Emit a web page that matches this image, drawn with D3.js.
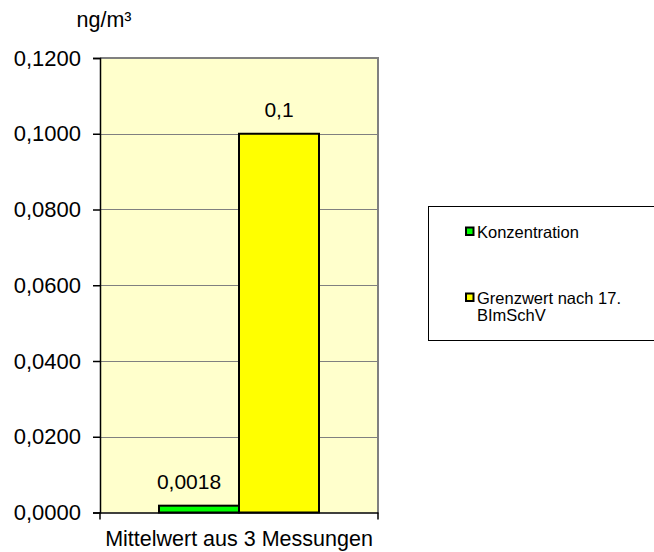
<!DOCTYPE html>
<html><head><meta charset="utf-8">
<script src="https://cdn.jsdelivr.net/npm/d3@7"></script>
<style>body{margin:0;background:#fff;} text{font-family:"Liberation Sans",Arial,sans-serif;}</style>
</head><body>
<svg id="c" width="654" height="552"></svg>
<script>
const categories = ["Mittelwert aus 3 Messungen"];
const seriesNames = ["Konzentration", "Grenzwert nach 17. BImSchV"];
const seriesValues = [0.0018, 0.1];
const valueLabels = ["0,0018", "0,1"];
const seriesColors = ["#00FF00", "#FFFF00"];
const yTicks = [0, 0.02, 0.04, 0.06, 0.08, 0.1, 0.12];
const unitLabel = "ng/m³";

const svg = d3.select("#c");
const L = 100, R = 378, T = 58, B = 512.5;
const y = d3.scaleLinear().domain([0, 0.12]).range([B, T]);
const x0 = d3.scaleBand().domain(categories).range([L, R]).padding(0);
const x1 = d3.scaleBand().domain(seriesNames).range([0, x0.bandwidth()]).paddingInner(0).paddingOuter(0.7375);
const fmt = v => d3.format(".4f")(v).replace(".", ",");

// plot background
svg.append("rect").attr("x", L).attr("y", T).attr("width", R - L).attr("height", B - T).attr("fill", "#FFFFCC");
// gridlines
svg.append("g").selectAll("line").data(yTicks.filter(t => t > 0)).join("line")
  .attr("x1", L).attr("x2", R).attr("y1", d => Math.round(y(d)) + 0.5).attr("y2", d => Math.round(y(d)) + 0.5)
  .attr("stroke", "#808080").attr("stroke-width", 1);
// plot border top/right
svg.append("path").attr("d", `M${L},${T}H${R}V${B}`).attr("fill", "none").attr("stroke", "#808080").attr("stroke-width", 2);

// bars
const g = svg.append("g");
seriesNames.forEach((s, i) => {
  const bx = x0(categories[0]) + x1(s);
  g.append("rect").attr("x", bx).attr("y", y(seriesValues[i])).attr("width", x1.bandwidth())
    .attr("height", y(0) - y(seriesValues[i])).attr("fill", seriesColors[i]).attr("stroke", "#000").attr("stroke-width", 2);
});
// value labels
const labelOffsets = [-10, 0];
seriesNames.forEach((s, i) => {
  const cx = x0(categories[0]) + x1(s) + x1.bandwidth() / 2 + labelOffsets[i];
  svg.append("text").attr("x", cx).attr("y", y(seriesValues[i]) - 17).attr("text-anchor", "middle")
    .attr("font-size", 21).attr("fill", "#000").text(valueLabels[i]);
});

// y axis
const yAxis = d3.axisLeft(y).tickValues(yTicks).tickFormat(fmt).tickSize(7).tickPadding(12);
const ya = svg.append("g").attr("transform", `translate(${L},0)`).call(yAxis);
ya.selectAll("text").attr("font-size", 22).attr("fill", "#000").attr("font-family", "Liberation Sans, Arial, sans-serif");
ya.selectAll("line,path").attr("stroke", "#000").attr("stroke-width", 1.5);

// x axis
const xa = svg.append("g").attr("transform", `translate(0,${B})`)
  .call(d3.axisBottom(x0).tickSize(0).tickPadding(18));
xa.select("path").attr("stroke", "#000").attr("stroke-width", 1.5);
xa.selectAll("text").attr("font-size", 21.5).attr("fill", "#000").attr("font-family", "Liberation Sans, Arial, sans-serif");
xa.selectAll("line.edge").data([L, R]).join("line").attr("class", "edge")
  .attr("x1", d => d).attr("x2", d => d).attr("y1", 0).attr("y2", 7).attr("stroke", "#000").attr("stroke-width", 1.5);

// unit label
svg.append("text").attr("x", 104).attr("y", 27).attr("text-anchor", "middle").attr("font-size", 21.5).text(unitLabel);

// legend
svg.append("rect").attr("x", 428.5).attr("y", 206.5).attr("width", 240).attr("height", 134).attr("fill", "#fff").attr("stroke", "#000").attr("stroke-width", 1);
const legY = [232, 298];
const legLines = [["Konzentration"], ["Grenzwert nach 17.", "BImSchV"]];
seriesNames.forEach((s, i) => {
  svg.append("rect").attr("x", 466).attr("y", legY[i] - 4.5).attr("width", 7.5).attr("height", 7.5)
    .attr("fill", seriesColors[i]).attr("stroke", "#000").attr("stroke-width", 2);
  const t = svg.append("text").attr("x", 477).attr("y", legY[i] + 5.5).attr("font-size", 16.5).attr("fill", "#000");
  legLines[i].forEach((ln, j) => t.append("tspan").attr("x", 477).attr("dy", j === 0 ? 0 : 17).text(ln));
});
</script>
</body></html>
